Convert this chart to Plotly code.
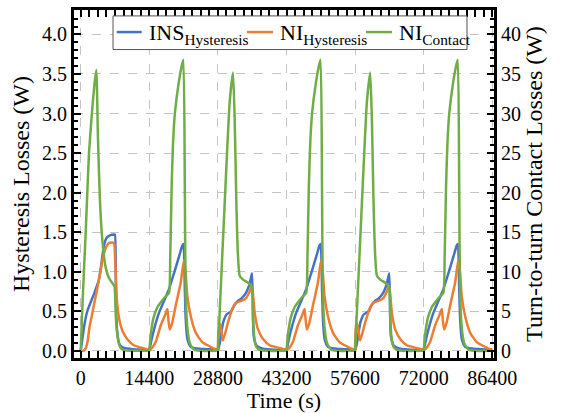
import plotly.graph_objects as go

# ---- cycle layout (s) ----
cycle_starts = [0, 14400, 28800, 43200, 57600, 72000]
cycle_kinds = ["first", "A", "B", "A", "B", "A"]

# ---- INS hysteresis losses (W): time within cycle (s), value ----
ins_first_t = [0, 350, 700, 1380, 2800, 3830, 4350, 4880, 5450, 6140, 6980, 7180, 7400, 7680, 8150, 8900, 11000, 14400]
ins_first_v = [0, 0.15, 0.3, 0.5, 0.72, 0.9, 1.1, 1.33, 1.43, 1.46, 1.47, 1.47, 0.6, 0.23, 0.08, 0.04, 0.02, 0.01]
ins_a_t = [0, 400, 990, 2030, 3090, 4130, 5180, 6230, 6930, 7180, 7450, 7650, 8000, 8700, 10000, 12000, 14400]
ins_a_v = [0, 0.12, 0.27, 0.48, 0.63, 0.78, 0.98, 1.19, 1.33, 1.35, 0.8, 0.4, 0.15, 0.05, 0.03, 0.02, 0.01]
ins_b_t = [0, 400, 1070, 1800, 2810, 3500, 4200, 4910, 5960, 6670, 7160, 7350, 7510, 8060, 9250, 13000, 14400]
ins_b_v = [0, 0.1, 0.35, 0.46, 0.5, 0.58, 0.63, 0.66, 0.74, 0.85, 0.98, 0.5, 0.19, 0.07, 0.03, 0.01, 0.01]

# ---- NI hysteresis losses (W) ----
ni_first_t = [0, 600, 1050, 1450, 1850, 2350, 2850, 3450, 4050, 4650, 5250, 5850, 6450, 7000, 7200, 7400, 7650, 7950, 8350, 8850, 9750, 11150, 13250, 14400]
ni_first_v = [0, 0.0, 0.03, 0.12, 0.3, 0.45, 0.6, 0.78, 0.97, 1.17, 1.3, 1.36, 1.37, 1.36, 1.2, 0.9, 0.6, 0.45, 0.33, 0.24, 0.15, 0.07, 0.03, 0.01]
ni_a_t = [0, 500, 1340, 2390, 3300, 3600, 3800, 4000, 4280, 4830, 5540, 6590, 7280, 7640, 7980, 8690, 9740, 11120, 12890, 13940, 14400]
ni_a_v = [0.01, 0.03, 0.11, 0.32, 0.45, 0.5, 0.53, 0.4, 0.27, 0.36, 0.57, 0.86, 1.15, 0.98, 0.69, 0.44, 0.23, 0.11, 0.05, 0.02, 0.02]
ni_b_t = [0, 200, 600, 1070, 2120, 3160, 3860, 4910, 5960, 6670, 7160, 7720, 8420, 9470, 10870, 12610, 14020, 14400]
ni_b_v = [0.02, 0.36, 0.3, 0.13, 0.36, 0.55, 0.61, 0.63, 0.67, 0.75, 0.82, 0.48, 0.27, 0.15, 0.07, 0.04, 0.02, 0.02]

# ---- NI turn-to-turn contact losses (W) ----
contact_first_t = [0, 450, 1050, 1740, 2440, 2850, 3270, 3620, 4040, 4540, 5230, 5930, 6840, 7100, 7400, 7820, 8450, 9250, 10350, 14400]
contact_first_v = [0, 7, 15, 25, 30.7, 33.5, 35.5, 27, 19, 14, 10.6, 9.2, 8.4, 8.2, 4, 1.5, 0.3, 0.05, 0, 0]
contact_a_t = [0, 400, 900, 1700, 2500, 3300, 4130, 4400, 4700, 5000, 5400, 6100, 6800, 7150, 7450, 7640, 8060, 8500, 8900, 9500, 10500, 14400]
contact_a_v = [0, 2.5, 4.2, 5.5, 6.2, 6.8, 7.3, 12, 21, 26.5, 30.2, 33.6, 36, 36.8, 21, 7, 2.5, 1.0, 0.5, 0.1, 0, 0]
contact_b_t = [0, 1760, 2480, 3170, 3530, 3860, 4220, 4570, 5270, 6320, 7160, 7370, 7680, 8060, 8840, 10000, 14400]
contact_b_v = [0, 23, 31.5, 35.2, 29, 19, 12, 9.5, 9.0, 8.6, 8.0, 4, 1.5, 0.5, 0.1, 0, 0]

# legend entries
legend_main = ["INS", "NI", "NI"]
legend_sub = ["Hysteresis", "Hysteresis", "Contact"]


def tile(profiles):
    """Place each cycle's profile at its start time and join them."""
    xs, ys = [], []
    for start, kind in zip(cycle_starts, cycle_kinds):
        t, v = profiles[kind]
        xs.extend(start + ti for ti in t)
        ys.extend(v)
    return xs, ys


ins_x, ins_y = tile({"first": (ins_first_t, ins_first_v), "A": (ins_a_t, ins_a_v), "B": (ins_b_t, ins_b_v)})
ni_x, ni_y = tile({"first": (ni_first_t, ni_first_v), "A": (ni_a_t, ni_a_v), "B": (ni_b_t, ni_b_v)})
ct_x, ct_y = tile({"first": (contact_first_t, contact_first_v), "A": (contact_a_t, contact_a_v),
                   "B": (contact_b_t, contact_b_v)})

BLUE, ORANGE, GREEN = "#4472C4", "#ED7D31", "#70AD47"
COLORS = [BLUE, ORANGE, GREEN]
FONT = "Liberation Serif, Times New Roman, serif"

fig = go.Figure()
fig.add_trace(go.Scatter(x=ins_x, y=ins_y, mode="lines", name="INS<sub>Hysteresis</sub>",
                         line=dict(color=BLUE, width=2.5, shape="spline", smoothing=0.5)))
fig.add_trace(go.Scatter(x=ni_x, y=ni_y, mode="lines", name="NI<sub>Hysteresis</sub>",
                         line=dict(color=ORANGE, width=2.5, shape="spline", smoothing=0.5)))
fig.add_trace(go.Scatter(x=ct_x, y=ct_y, mode="lines", name="NI<sub>Contact</sub>",
                         line=dict(color=GREEN, width=2.5, shape="spline", smoothing=0.5), yaxis="y2"))

# framed legend box with short line samples and subscripted labels
shapes = [dict(type="rect", xref="paper", yref="paper", x0=0.0929, x1=0.9357, y0=0.8864, y1=0.983,
               fillcolor="white", line=dict(color="#555555", width=1), layer="above")]
annotations = []
sample_x = [(0.1017, 0.1612), (0.4119, 0.4738), (0.6952, 0.7571)]
text_x = [0.1738, 0.4857, 0.769]
for (x0, x1), tx, col, main, sub in zip(sample_x, text_x, COLORS, legend_main, legend_sub):
    shapes.append(dict(type="line", xref="paper", yref="paper", x0=x0, x1=x1, y0=0.9366, y1=0.9366,
                       line=dict(color=col, width=2.5), layer="above"))
    annotations.append(dict(xref="paper", yref="paper", x=tx, y=0.9318, xanchor="left", yanchor="middle",
                            text=f"{main}<sub>{sub}</sub>", showarrow=False,
                            font=dict(family=FONT, size=22, color="black")))

fig.update_layout(
    width=561, height=413,
    margin=dict(l=74, r=67, t=7, b=54),
    paper_bgcolor="white", plot_bgcolor="white",
    font=dict(family=FONT, size=20, color="black"),
    showlegend=False,
    shapes=shapes,
    annotations=annotations,
    xaxis=dict(
        range=[-1406, 86757], tick0=0, dtick=14400, tickformat="d",
        title=dict(text="Time (s)", font=dict(size=22), standoff=2),
        ticks="inside", ticklen=7, tickwidth=2, tickcolor="black",
        showline=True, linewidth=3, linecolor="black", mirror="allticks",
        showgrid=True, gridcolor="#c4c4c4", griddash="dash", gridwidth=1,
        zeroline=False,
        minor=dict(ticks="inside", dtick=1800, tick0=0, ticklen=4, tickwidth=1.5,
                   tickcolor="black", showgrid=False),
    ),
    yaxis=dict(
        range=[-0.091, 4.309], tick0=0, dtick=0.5, tickformat=".1f",
        title=dict(text="Hysteresis Losses (W)", font=dict(size=24), standoff=6),
        ticks="inside", ticklen=7, tickwidth=2, tickcolor="black",
        showline=True, linewidth=3, linecolor="black", mirror=True,
        showgrid=True, gridcolor="#c4c4c4", griddash="dash", gridwidth=1,
        zeroline=False,
        minor=dict(ticks="inside", dtick=0.1, tick0=0, ticklen=4, tickwidth=1.5,
                   tickcolor="black", showgrid=False),
    ),
    yaxis2=dict(
        overlaying="y", side="right",
        range=[-0.91, 43.09], tick0=0, dtick=5,
        title=dict(text="Turn-to-turn Contact Losses (W)", font=dict(size=24), standoff=6),
        ticks="inside", ticklen=7, tickwidth=2, tickcolor="black",
        showline=True, linewidth=3, linecolor="black",
        showgrid=False, zeroline=False,
        minor=dict(ticks="inside", dtick=1, tick0=0, ticklen=4, tickwidth=1.5,
                   tickcolor="black", showgrid=False),
    ),
)

fig.write_html("out.html")
